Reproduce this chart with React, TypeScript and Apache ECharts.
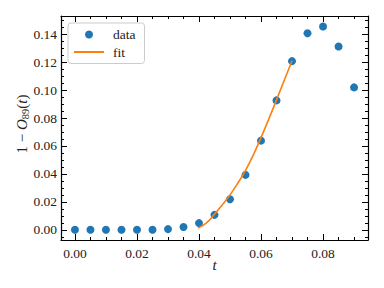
import React, { useEffect, useRef } from "react";
import * as echarts from "echarts";

const tData = [0.0, 0.005, 0.01, 0.015, 0.02, 0.025, 0.03, 0.035, 0.04, 0.045, 0.05, 0.055, 0.06, 0.065, 0.07, 0.075, 0.08, 0.085, 0.09];
const yData = [0.0, 0.0, 0.0, 0.0, 0.0, 0.0, 0.0005, 0.002, 0.0048, 0.0107, 0.0219, 0.0393, 0.0638, 0.0926, 0.1207, 0.1407, 0.1455, 0.1312, 0.1019];
const tFit = [0.0397, 0.0425, 0.045, 0.0475, 0.05, 0.0525, 0.055, 0.0575, 0.06, 0.0625, 0.065, 0.0675, 0.07];
const yFit = [0.0012, 0.0052, 0.0112, 0.0178, 0.025, 0.0333, 0.0425, 0.0535, 0.066, 0.0792, 0.093, 0.107, 0.121];
const xMajor = [0.0, 0.02, 0.04, 0.06, 0.08];
const xMinor = [0.0, 0.005, 0.01, 0.015, 0.02, 0.025, 0.03, 0.035, 0.04, 0.045, 0.05, 0.055, 0.06, 0.065, 0.07, 0.075, 0.08, 0.085, 0.09];
const yMajor = [0.0, 0.02, 0.04, 0.06, 0.08, 0.1, 0.12, 0.14];
const yMinor = [-0.005, 0.0, 0.005, 0.01, 0.015, 0.02, 0.025, 0.03, 0.035, 0.04, 0.045, 0.05, 0.055, 0.06, 0.065, 0.07, 0.075, 0.08, 0.085, 0.09, 0.095, 0.1, 0.105, 0.11, 0.115, 0.12, 0.125, 0.13, 0.135, 0.14, 0.145, 0.15];

const FONT = "Liberation Serif";
const TXT = "#222";

export default function App() {
  const ref = useRef<HTMLDivElement>(null);
  useEffect(() => {
    const chart = echarts.init(ref.current!, null, { renderer: "svg" });
    const xMin = -0.0045, xMax = 0.0945, yMin = -0.0073, yMax = 0.153;
    const line = { show: true, onZero: false, lineStyle: { color: "#000", width: 1.2 } };
    const noLine = { show: false, onZero: false };
    const mkX = (pos: string, major: boolean, label: boolean, withLine: boolean) => ({
      type: "value", position: pos, min: xMin, max: xMax, gridIndex: 0,
      axisLine: withLine ? line : noLine,
      axisTick: { show: true, inside: true, length: major ? 6 : 3, customValues: major ? xMajor : xMinor, lineStyle: { color: "#000", width: 1 } },
      axisLabel: label ? { show: true, customValues: xMajor, formatter: (v: number) => v.toFixed(2), fontFamily: FONT, fontSize: 13.5, color: TXT, margin: 6 } : { show: false },
      splitLine: { show: false },
    });
    const mkY = (pos: string, major: boolean, label: boolean, withLine: boolean) => ({
      type: "value", position: pos, min: yMin, max: yMax, gridIndex: 0,
      axisLine: withLine ? line : noLine,
      axisTick: { show: true, inside: true, length: major ? 6 : 3, customValues: major ? yMajor : yMinor, lineStyle: { color: "#000", width: 1 } },
      axisLabel: label ? { show: true, customValues: yMajor, formatter: (v: number) => v.toFixed(2), fontFamily: FONT, fontSize: 13.5, color: TXT, margin: 4 } : { show: false },
      splitLine: { show: false },
    });
    chart.setOption({
      animation: false,
      grid: { left: 61, top: 16, right: 16, bottom: 48 },
      legend: {
        show: true,
        orient: "vertical",
        left: 68,
        top: 23,
        padding: [4, 9, 4, 5],
        itemWidth: 30,
        itemHeight: 8,
        itemGap: 2.5,
        borderColor: "#cccccc",
        borderWidth: 1,
        borderRadius: 3,
        backgroundColor: "rgba(255,255,255,0.8)",
        textStyle: { fontFamily: FONT, fontSize: 13.5, color: TXT, padding: [0, 0, 0, 4], lineHeight: 15 },
        data: [
          { name: "data", icon: "circle" },
          { name: "fit", itemStyle: { opacity: 0 } },
        ],
      },
      graphic: [
        {
          type: "text", x: 214.5, y: 265,
          style: { text: "t", fontFamily: FONT, fontSize: 15, fontStyle: "italic", fill: TXT, align: "center", verticalAlign: "middle" },
        },
        {
          type: "text", x: 22, y: 124, rotation: Math.PI / 2,
          style: {
            text: "1 − {i|O}{s|89}({i|t})",
            fontFamily: FONT, fontSize: 15, fill: TXT, align: "center", verticalAlign: "middle",
            rich: {
              i: { fontFamily: FONT, fontSize: 15, fontStyle: "italic", fill: TXT },
              s: { fontFamily: FONT, fontSize: 10.5, fill: TXT, verticalAlign: "bottom", padding: [7, 0, 0, 0] },
            },
          },
        },
      ],
      xAxis: [
        mkX("bottom", true, true, true),
        mkX("bottom", false, false, false),
        mkX("top", true, false, true),
        mkX("top", false, false, false),
      ],
      yAxis: [
        mkY("left", true, true, true),
        mkY("left", false, false, false),
        mkY("right", true, false, true),
        mkY("right", false, false, false),
      ],
      series: [
        {
          name: "data", type: "scatter", xAxisIndex: 0, yAxisIndex: 0,
          data: tData.map((t, i) => [t, yData[i]]),
          symbol: "circle", symbolSize: 8,
          itemStyle: { color: "#1f77b4", opacity: 1 },
          z: 2,
        },
        {
          name: "fit", type: "line", xAxisIndex: 0, yAxisIndex: 0,
          data: tFit.map((t, i) => [t, yFit[i]]),
          smooth: true, symbol: "none", showSymbol: false,
          lineStyle: { color: "#ff7f0e", width: 1.6 },
          itemStyle: { color: "#ff7f0e" },
          z: 3,
        },
      ],
    });
    return () => chart.dispose();
  }, []);
  return <div ref={ref} style={{ width: 384, height: 288, position: "absolute", left: 0, top: 0 }} />;
}
